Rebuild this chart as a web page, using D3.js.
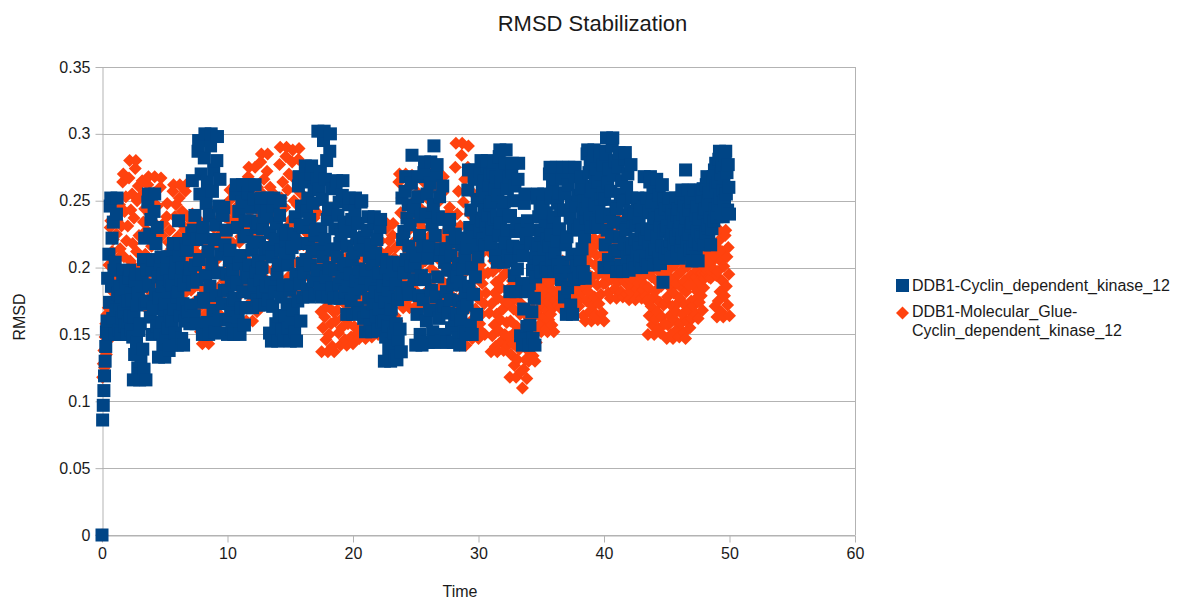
<!DOCTYPE html>
<html><head><meta charset="utf-8">
<script src="https://cdn.jsdelivr.net/npm/d3@7"></script>
<style>
body{margin:0;background:#fff}
text{font-family:"Liberation Sans",Arial,sans-serif}
</style>
</head><body>
<svg id="c" width="1189" height="601"></svg>
<script>
// ---------------- DATA ----------------
const chartTitle = "RMSD Stabilization";
const xTitle = "Time";
const yTitle = "RMSD";
const seriesNames = ["DDB1-Cyclin_dependent_kinase_12", "DDB1-Molecular_Glue-Cyclin_dependent_kinase_12"];
const xTicks = [0, 10, 20, 30, 40, 50, 60];
const yTicks = [0, 0.05, 0.1, 0.15, 0.2, 0.25, 0.3, 0.35];
const timeStep = 0.05; // ns between frames

// Series 1 (blue), RMSD per frame
const blue_t00 = [0,.086,.097,.108,.119,.130,.141,.152,.160,
.192,.150,.210,.174,.246,.252,.186,.222,.162,.234,.198,.150,.204,.168,.240,.252,.180,
.181,.153,.186,.170,.150,.178,.162,.195,.198,.167,.184,.156,.189,.173,.150,.175,.159,.192,.198,.164,.181,.153,
.176,.148,.116,.163,.135,.190,.195,.144,.172,.125,.181,.153,.116,.158,.130,.186,.195,.139,
.206,.124,.222,.173,.116,.198,
.175,.249,.255,.187,.225,.163,.236,.199,.150,.206,.169,.242,.255,.180,.218,.156,.230,.193,
.133,.177,.151,.204,.208,.159,.186,.142,.195,.168,.133,.173,.147,.199,.208,.155,.182,.138,.190,.164,
.142,.187,.160,.213,.218,.169,.196,.151,.204,.178,.142,.182,.235,.209,.218,.164,.191,.147,.200,.173,.142,.187,.160,.213,.218,.169,
.213,.167,.221,.194,.158,.199,.172,.226,.265,.189,.228,.164,.239,.202,.158,.221,.191,.287,.295,.206,.255,.174,.270,.222,
.150,.230,.177,.282,.300,.194,.248,.159,.264,.212,.150,.239,.186,.291,.300,.203,.257,.168,.273,.221,.152,.232,.179,.280,.298,.196,.246,.161,.266,.210,.151,.241,
.173,.239,.245,.183,.217,.161,.228,.195];
const blue_t10 = [.150,.183,.161,.205,.213,.168,.191,.154,.198,.176,.150,.187,
.177,.255,.262,.189,.230,.163,.242,.203,.150,.209,.170,.249,.262,.182,.223,.157,.235,.196,
.170,.224,.192,.256,.262,.202,.235,.181,.245,.213,.170,.219,.187,.251,.262,.197,.230,.176,
.233,.205,.172,.219,.191,.247,.252,.200,.229,.182,.238,.210,.172,.214,.186,.242,
.252,.176,.215,.151,.226,.189,.145,.208,.171,.246,.252,.182,.221,.158,.233,.195,.145,.202,.164,.239,.250,.178,.213,.153,.228,.187,.146,.206,
.164,.220,.225,.173,.202,.155,.211,.183,.145,.187,.159,.215,.225,.168,
.225,.152,.238,.195,.145,.218,.175,.261,.268,.188,.232,.160,.246,.203,
.178,.230,.196,.264,.276,.206,.242,.184,.252,.218,.178,.236,.202,.270,.276,.212,.248,.190,.258,.224,.180,.228,.198,.266,
.302,.214,.259,.185,.272,.229,.178,.251,.208,.295,.302,.221,.266,.193,.280,.236,.178,.244,.200,.287,.300,.214,.259,.185,
.244,.213,.177,.229,.198,.260,.265,.208,.239,.188,.249,.218,.177,.224,.193,.254,.265,.203,.234,.182,
.231,.201,.165,.216,.186,.247,.252,.195,.227,.175,.236,.206];
const blue_t20 = [.165,.211,.181,.242,.252,.190,.222,.170,.233,.199,.166,.218,.184,.249,.250,.197,
.213,.162,.223,.192,.152,.198,.167,.228,.238,.177,.208,.157,.217,.187,.152,.203,.173,.233,.238,.182,.211,.164,.221,.194,.153,.196,.169,.230,.236,.179,.206,.159,
.186,.160,.130,.174,.148,.200,.204,.156,.183,.139,.191,.165,.130,.169,.143,.195,.204,.151,.178,.134,.188,.158,.131,.176,.146,.202,.203,.154,.181,.137,
.252,.221,.180,.227,.196,.257,.268,.206,.237,.185,.247,.216,.180,.232,.201,.263,.284,.211,.242,.191,
.245,.201,.142,.209,.165,.253,.268,.179,.224,.150,.238,.194,.142,.216,
.176,.271,.279,.191,.240,.160,.255,.207,.144,.216,.168,.263,.279,.183,.232,.152,.247,.291,.144,.224,.178,.269,.277,.193,.238,.162,.253,.209,.145,.214,.170,.261,
.236,.171,.204,.150,.214,.182,.144,.198,.166,.230,.236,.176,.209,.155,.219,.187,.144,.193,.161,.225,
.222,.165,.194,.147,.203,.175,.142,.189,.161,.217,.222,.170,.199,.152,.208,.180,
.150,.215,.172,.258,.273,.186,.230,.157,.243,.200,.150,.223,.180,.266,.273,.193,.237,.165,.251,.208];
const blue_t30 = [.217,.250,.228,.272,.280,.235,.258,.221,.265,.243,.217,.254,.232,.276,.280,.239,.262,.225,.269,.247,.218,.249,.229,.271,.279,.236,
.259,.209,.268,.238,.204,.254,.224,.283,.288,.233,.264,.214,.273,.243,.204,.249,.219,.278,.288,.228,.259,.209,.268,.238,
.182,.239,.205,.272,.278,.216,.250,.194,.261,.227,.182,.233,.199,.266,.278,.210,
.215,.149,.228,.188,.142,.209,.169,.248,.255,.182,.222,.156,.235,
.182,.142,.188,.157,.218,.228,.167,.198,.147,.207,.177,.142,.193,
.211,.252,.255,.217,.238,.204,.245,.224,.197,.228,.207,.248,.255,.214,.235,.200,.241,.221,.197,.231,
.216,.270,.275,.224,.252,.206,.261,.234,.197,.238,.211,.266,.275,.220,.248,.202,.256,.229,.197,.243,
.191,.268,.275,.204,.243,.178,.255,.217,.165,.223,.185,.262,.275,.197,.237,.172,.249,.210,.165,.230,.191,.268,.275,.204,
.246,.201,.254,.228,.192,.232,.206,.259,.268,.214,.241,.197,.250,.223,.192,.237,
.244,.285,.288,.250,.271,.237,.278,.257,.230,.261,.240,.281,.288,.247,.268,.233,.274,.254,.230,.264,.245,.284,.287,.251,.270,.238,.277,.256];
const blue_t40 = [.200,.251,.217,.285,.297,.228,.263,.206,.274,.240,.200,.257,.223,.291,.297,.234,.269,.212,.280,.246,
.197,.244,.213,.275,.286,.223,.255,.202,.265,.233,.197,.250,.218,.281,.286,.228,.260,.208,.270,.239,.198,.242,.214,.277,
.252,.215,.234,.203,.240,.221,.200,.231,.212,.249,.252,.218,.237,.206,.243,.224,.200,.228,.209,.246,
.268,.221,.245,.206,.252,.229,.202,.241,.218,.264,.268,.225,.249,.210,.256,.233,.202,.237,.214,.260,.266,.223,.247,.207,.254,.231,.203,.239,.216,.262,.189,.227,.251,.211,
.244,.228,.207,.231,.215,.247,.252,.220,.236,.210,.241,.225,.207,.234,.218,.249,.252,.223,.239,.212,.244,.228,
.207,.234,.216,.252,.258,.222,.240,.210,.246,.228,.273,.237,.219,.255,.258,.225,.243,.213,.249,.231,
.205,.233,.215,.252,.258,.220,.239,.208,.245,.227,.205,.236,.218,.255,.258,.224,
.253,.223,.259,.241,.217,.244,.226,.262,.268,.232,.250,.220,.256,.238,.217,.247,.229,.265,.268,.235,
.273,.244,.278,.261,.238,.264,.247,.281,.287,.252,.270,.241,.275,.258,.238,.267,.250,.284,.287,.255,.271,.243,.277,.260,.240];

// Series 2 (orange), RMSD per frame
const orange_t00 = [0,.118,.128,.138,.125,.148,.158,.135,.165,.145,.170,
.202,.174,.230,.235,.183,.212,.165,.221,.193,.155,.197,.169,.225,.235,.178,.207,.160,
.247,.214,.175,.231,.198,.264,.270,.208,.242,.186,.253,.220,
.175,.231,.194,.267,.280,.205,.243,.181,.255,.218,.175,.237,.200,.274,.280,.212,.250,.188,.261,.224,
.175,.223,.191,.254,.265,.201,
.234,.176,.244,.210,.170,.228,.194,.262,.268,.204,.240,.182,.250,.216,.170,.222,.188,.256,.268,.198,.232,.178,.246,.208,.171,.226,.196,.260,.267,.206,
.224,.175,.233,.204,.165,.209,.180,.238,.248,.189,.219,.170,.228,.199,.165,.214,
.200,.257,.262,.209,.238,.190,.247,.219,.180,.223,.195,.252,.262,.204,.233,.185,.242,.214,.180,.228,.200,.257,.262,.209,.238,.190,
.227,.203,.170,.207,.183,.232,.240,.190,.216,.174,.223,.199,.170,.211,.187,.236,
.220,.170,.198,.152,.206,.179,.143,.184,.157,.211,.220,.165,.193,.148,.202,.175,.143,.188,.161,.215,.220,.170,.198,.152,
.230,.200,.160,.205,.175,.235,.245,.185,.215,.165,.225,.195,.160,.210,.180,.240,.245,.190,
.238,.198,.246,.222];
const orange_t10 = [.190,.226,.202,.250,.258,.210,.234,.194,.242,.218,.190,.230,
.200,.257,.262,.209,.238,.190,.247,.219,.180,.223,.195,.252,.262,.204,.233,.185,
.247,.207,.160,.228,.188,.268,.275,.200,.242,.174,.254,.214,.160,.221,.181,.261,.275,.193,.235,.167,
.260,.223,.180,.242,.205,.279,.285,.217,.255,.193,.266,.229,.180,.236,.199,.272,.285,.210,.248,.186,.260,.223,
.180,.224,.198,.251,.255,.206,.233,.189,.242,.215,
.180,.238,.200,.277,.290,.212,.252,.187,.264,.225,.180,.245,.206,.283,.290,.219,.258,.193,.270,.232,
.182,.236,.202,.279,.288,.214,.250,.189,.266,.223,.181,.247,.204,.281,.289,.217,.256,.195,.268,.230,
.180,.217,.193,.242,.250,.200,.226,.184,.233,.209,.180,.221,.197,.246,.250,.205,.230,.188,.237,.213,.181,.216,.194,.241,.249,.201,.225,.185,
.192,.167,.137,.180,.155,.206,.210,.163,.189,.146,.197,.171,.137,.176,.150,.201,.210,.158,.184,.141,.192,.167,.137,.180,
.160,.211,.215,.168,.194,.151,.202,.176,.142,.181,.155,.206,.215,.163,.189,.146,.197,.172,.142,.185,.158,.209,.214,.166,.192,.148,.200,.174];
const orange_t20 = [.143,.183,.156,.207,
.220,.168,.194,.151,.202,.177,.147,.190,.165,.216,.220,.173,.199,.156,.207,.181,.147,.186,.160,.211,.219,.170,.196,.153,.204,.179,.148,.188,.163,.214,.218,.171,
.200,.158,.207,.183,.150,.187,.163,.212,.220,.170,.196,.154,.203,.179,
.160,.203,.178,.229,.233,.186,.212,.169,.220,.194,.160,.199,.173,.224,.233,.181,.207,.164,.215,.190,.160,.203,
.194,.264,.270,.205,.241,.182,.252,.217,.170,.223,.188,.258,.270,.199,.235,.176,.246,.211,.170,.229,.196,.262,.269,.207,.239,.184,.250,.219,.171,.221,.190,.256,.268,.201,.233,.178,.244,.213,
.170,.229,.194,.264,.270,.205,.241,.182,.252,.217,.170,.223,.188,.258,.270,.199,.235,.176,.246,.211,.172,.227,.196,.262,.268,.207,.239,.184,.250,.219,.171,.221,.190,.256,.268,.201,
.219,.175,.227,.201,.170,.214,.188,.241,.245,.196,.223,.179,.232,.205,.170,.210,
.169,.275,.293,.186,.240,.151,.257,.204,.142,.231,.178,.284,.293,.195,.249,.160,.266,.213,.142,.222,.169,.275,.291,.186,.240,.151,.257,.204,
.147,.184,.162,.206,.210,.169,.192,.155,.199,.177];
const orange_t30 = [.147,.180,.158,.202,.210,.165,.188,.151,.195,.173,
.150,.227,.181,.272,.280,.196,.242,.166,.257,.211,
.137,.173,.149,.197,.205,.157,.181,.141,.189,.165,.137,.177,.153,.201,.205,.161,.185,.145,.193,.169,.138,.175,.150,.196,.204,.159,.183,.142,
.173,.148,.118,.160,.135,.186,.190,.143,.169,.127,.177,.152,.118,.156,.131,.181,.190,.139,.165,.122,.173,.148,
.110,.145,.124,.166,.170,.131,.153,.117,.159,.138,
.130,.162,.141,.183,.190,.147,.169,.134,.176,.155,.130,.165,.144,.186,
.190,.165,.179,.157,.183,.170,.152,.172,.159,.185,.190,.163,.177,.154,.181,.168,.152,.174,.161,.188,.190,.165,.179,.157,.183,.170,.152,.172,
.176,.201,.205,.180,.193,.172,.197,.184,.170,.191,.178,.203,.205,.182,.195,.174,.199,.186,
.170,.189,.176,.201,.205,.180,.193,.172,.197,.184,.170,.191,.178,.203,.205,.182,.195,.174,.199,.186,
.171,.188,.177,.200,.204,.181,
.200,.164,.207,.185,.160,.197,.175,.218,.222,.182,.204,.167,.211,.189,.160,.193,.171,.215,.222,.178,.202,.165,.209,.187,.161,.195,.173,.217,.221,.180,.203,.166,.210,.188];
const orange_t40 = [.160,.194,
.188,.230,.237,.194,.216,.181,.223,.202,.177,.212,.191,.233,.237,.198,.220,.184,.226,.205,.177,.209,.189,.229,.236,.195,.215,.182,.222,.203,.178,.211,.190,.232,
.210,.188,.200,.180,.204,.192,.176,.194,.182,.206,.210,.186,.198,.178,.202,.190,.176,.196,.184,.208,.210,.188,.200,.180,.204,.192,.177,.195,.183,.207,.209,.187,.199,.179,
.196,.175,.150,.185,.164,.206,.210,.171,.193,.157,.199,.178,.150,.182,.161,.203,.210,.167,.189,.154,.197,.174,.151,.186,.163,.205,.209,.172,.192,.158,
.195,.174,.147,.178,.157,.198,.205,.164,.185,.150,.191,.171,.147,.181,.161,.202,.205,.167,.188,.154,.195,.174,
.148,.177,.158,.197,.204,.165,.184,.151,.190,.172,.147,.182,.160,.201,.205,.168,.187,.155,.194,.175,
.162,.187,.171,.204,.210,.176,.193,.165,.198,.182,.162,.190,.174,.207,.210,.179,.196,.168,.201,.185,
.192,.203,.196,.210,.212,.198,.205,.193,.207,.200,.192,.204,.197,.211,.212,.199,
.209,.171,.216,.194,.163,.197,.175,.220,.228,.182,.205,.167,.212,.190,.163,.201,.179,.224,.228,.186,.208,.172,.215,.195,.164];

// ---------------- CHART ----------------
const blueValues = [].concat(blue_t00, blue_t10, blue_t20, blue_t30, blue_t40);
const orangeValues = [].concat(orange_t00, orange_t10, orange_t20, orange_t30, orange_t40);
const toPoints = vals => vals.map((v, i) => ({ t: i * timeStep, v }));
const bluePts = toPoints(blueValues);
const orangePts = toPoints(orangeValues);

const BLUE = "#004586", ORANGE = "#ff420e", GRID = "#b3b3b3", TXT = "#1a1a1a";
const x = d3.scaleLinear().domain([0, 60]).range([102, 855]);
const y = d3.scaleLinear().domain([0, 0.35]).range([535, 67]);

const svg = d3.select("#c");
svg.append("rect").attr("width", 1189).attr("height", 601).attr("fill", "#fff");

// horizontal gridlines
svg.append("g").selectAll("line").data(yTicks).join("line")
  .attr("x1", x(0)).attr("x2", x(60))
  .attr("y1", d => Math.round(y(d)) + 0.5).attr("y2", d => Math.round(y(d)) + 0.5)
  .attr("stroke", GRID).attr("stroke-width", 1);
// right border of plot
svg.append("line").attr("x1", Math.round(x(60)) + 0.5).attr("x2", Math.round(x(60)) + 0.5)
  .attr("y1", y(0.35)).attr("y2", y(0)).attr("stroke", GRID);

// axes
const fmtY = d => String(+d.toFixed(2));
const gy = svg.append("g").attr("transform", `translate(${Math.round(x(0)) + 0.5},0)`)
  .call(d3.axisLeft(y).tickValues(yTicks).tickFormat(fmtY).tickSize(7).tickSizeOuter(0).tickPadding(5));
const gx = svg.append("g").attr("transform", `translate(0,${Math.round(y(0)) + 0.5})`)
  .call(d3.axisBottom(x).tickValues(xTicks).tickFormat(d3.format("d")).tickSize(7).tickSizeOuter(0).tickPadding(5));
[gx, gy].forEach(g => {
  g.attr("font-size", 16).attr("font-family", '"Liberation Sans", Arial, sans-serif');
  g.selectAll("path, line").attr("stroke", GRID);
  g.selectAll("text").attr("fill", TXT);
});

// series 2 (orange diamonds) drawn first
const h = 6.5;
svg.append("g").selectAll("path").data(orangePts).join("path")
  .attr("d", `M0,${-h}L${h},0L0,${h}L${-h},0Z`)
  .attr("transform", d => `translate(${x(d.t)},${y(d.v)})`)
  .attr("fill", ORANGE);
// series 1 (blue squares) on top
svg.append("g").selectAll("rect").data(bluePts).join("rect")
  .attr("x", d => x(d.t) - 6.5).attr("y", d => y(d.v) - 6.5)
  .attr("width", 13).attr("height", 13)
  .attr("fill", BLUE);

// titles
svg.append("text").attr("x", 592.5).attr("y", 31).attr("text-anchor", "middle")
  .attr("font-size", 22).attr("fill", TXT).text(chartTitle);
svg.append("text").attr("x", 460).attr("y", 597).attr("text-anchor", "middle")
  .attr("font-size", 16).attr("fill", TXT).text(xTitle);
svg.append("text").attr("transform", "translate(25,317) rotate(-90)").attr("text-anchor", "middle")
  .attr("font-size", 16).attr("fill", TXT).text(yTitle);

// legend
const lg = svg.append("g");
lg.append("rect").attr("x", 896).attr("y", 279).attr("width", 13).attr("height", 13).attr("fill", BLUE);
lg.append("path").attr("d", `M902.5,${313 - h}L${902.5 + h},313L902.5,${313 + h}L${902.5 - h},313Z`).attr("fill", ORANGE);
lg.append("text").attr("x", 912).attr("y", 291).attr("font-size", 16).attr("fill", TXT).text(seriesNames[0]);
const l2 = seriesNames[1].split("Glue-");
lg.append("text").attr("x", 912).attr("y", 317).attr("font-size", 16).attr("fill", TXT).text(l2[0] + "Glue-");
lg.append("text").attr("x", 912).attr("y", 336).attr("font-size", 16).attr("fill", TXT).text(l2[1]);
</script>
</body></html>
